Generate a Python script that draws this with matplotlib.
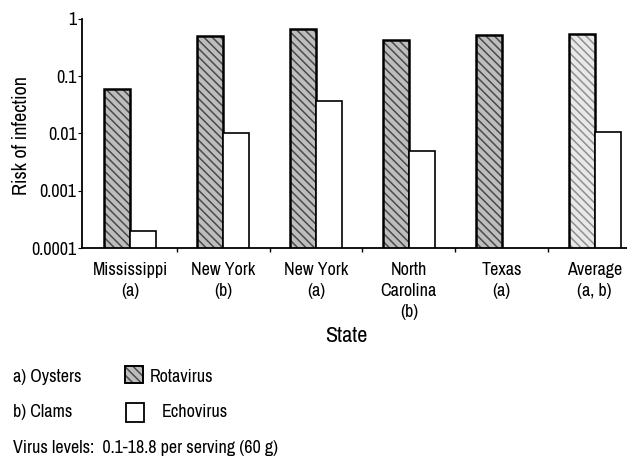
import numpy as np
import matplotlib
matplotlib.use('Agg')
import matplotlib.pyplot as plt
from matplotlib.patches import Rectangle

plt.rcParams['font.family'] = ['Archivo Narrow', 'DejaVu Sans']
plt.rcParams['hatch.linewidth'] = 1.1

# data
states = ['Mississippi\n(a)', 'New York\n(b)', 'New York\n(a)',
          'North\nCarolina\n(b)', 'Texas\n(a)', 'Average\n(a, b)']
rotavirus = [0.06, 0.5, 0.67, 0.42, 0.52, 0.55]
echovirus = [0.0002, 0.01, 0.037, 0.005, np.nan, 0.0105]
rota_fill = ['#bdbdbd', '#bdbdbd', '#bdbdbd', '#bdbdbd', '#bdbdbd', '#e8e8e8']
rota_hatch = ['#4a4a4a', '#4a4a4a', '#4a4a4a', '#4a4a4a', '#4a4a4a', '#8f8f8f']

fig = plt.figure(figsize=(6.27, 4.61), dpi=100)
ax = fig.add_axes([0.131, 0.462, 0.869, 0.497])

x = np.arange(len(states))
w = 0.28

# textured rotavirus bars, then black outlines on top
for i in range(len(states)):
    ax.bar(x[i] - w / 2, rotavirus[i], w, color=rota_fill[i], edgecolor=rota_hatch[i],
           hatch='\\\\\\\\', linewidth=0)
ax.bar(x - w / 2, rotavirus, w, fill=False, edgecolor='black', linewidth=1.8)
ax.bar(x + w / 2, echovirus, w, color='white', edgecolor='black', linewidth=1.2)

ax.set_yscale('log')
ax.set_ylim(1e-4, 1)
ax.set_xlim(-0.52, 5.35)
ax.set_yticks([1e-4, 1e-3, 1e-2, 1e-1, 1])
ax.set_yticklabels(['0.0001', '0.001', '0.01', '0.1', '1'])
ax.yaxis.set_minor_locator(matplotlib.ticker.NullLocator())
ax.set_xticks(x)
ax.set_xticklabels(states, va='top', linespacing=1.4)
ax.set_xticks(x[:-1] + 0.5, minor=True)
ax.tick_params(axis='x', which='major', length=0, pad=10, labelsize=13)
ax.tick_params(axis='x', which='minor', length=3, direction='out', width=1)
ax.tick_params(axis='y', length=3, direction='out', labelsize=13, pad=1)

ax.spines['top'].set_visible(False)
ax.spines['right'].set_visible(False)
ax.spines['left'].set_linewidth(1.3)
ax.spines['bottom'].set_linewidth(1.3)

ax.set_ylabel('Risk of infection', fontsize=14.5)
ax.yaxis.set_label_coords(-0.094, 0.49)
fig.text(0.552, 0.271, 'State', ha='center', va='center', fontsize=16)

# legend drawn by hand below the chart
fig.text(0.021, 0.182, 'a) Oysters', fontsize=13, va='center')
fig.text(0.021, 0.106, 'b) Clams', fontsize=13, va='center')
fig.patches.append(Rectangle((0.199, 0.169), 0.029, 0.037, transform=fig.transFigure,
                             facecolor='#bdbdbd', edgecolor='#4a4a4a', hatch='\\\\\\\\',
                             linewidth=0))
fig.patches.append(Rectangle((0.199, 0.169), 0.029, 0.037, transform=fig.transFigure,
                             fill=False, edgecolor='black', linewidth=1.4))
fig.text(0.239, 0.182, 'Rotavirus', fontsize=13, va='center')
fig.patches.append(Rectangle((0.201, 0.085), 0.029, 0.041, transform=fig.transFigure,
                             facecolor='white', edgecolor='black', linewidth=1.3))
fig.text(0.258, 0.106, 'Echovirus', fontsize=13, va='center')
fig.text(0.021, 0.028, 'Virus levels:  0.1-18.8 per serving (60 g)', fontsize=13, va='center')

fig.savefig('out.png', dpi=100)
